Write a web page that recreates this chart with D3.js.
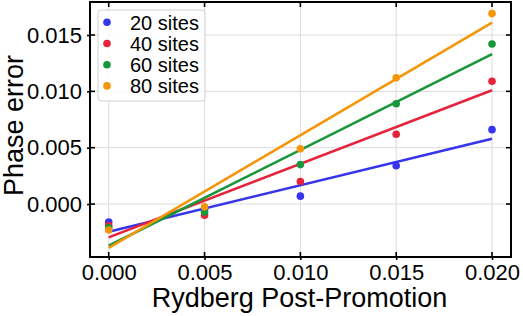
<!DOCTYPE html>
<html>
<head>
<meta charset="utf-8">
<script src="https://cdn.jsdelivr.net/npm/d3@7"></script>
<style>
  html, body { margin: 0; padding: 0; background: #fff; }
  svg { display: block; font-family: "Liberation Sans", Arial, Helvetica, sans-serif; }
</style>
</head>
<body>
<svg id="chart" width="523" height="316"></svg>
<script>
// ---- data ----
const xValues = [0, 0.005, 0.010, 0.015, 0.020];
const seriesNames = ["20 sites", "40 sites", "60 sites", "80 sites"];
const seriesColors = ["#3535ee", "#e5243b", "#17963a", "#f5960a"];
const sites20 = [-0.0016, -0.0005, 0.0007, 0.0034, 0.0066];
const sites40 = [-0.0019, -0.0010, 0.0020, 0.0062, 0.0109];
const sites60 = [-0.0021, -0.0007, 0.0035, 0.0089, 0.0142];
const sites80 = [-0.0023, -0.00025, 0.0049, 0.0112, 0.0169];
// linear fit lines, value at x = 0 and at x = 0.020
const fitX = [0, 0.020];
const fitStart = [-0.00246, -0.00296, -0.0037, -0.00388];
const fitEnd = [0.0058, 0.0101, 0.0133, 0.0161];
const xTicks = [0, 0.005, 0.010, 0.015, 0.020];
const yTicks = [0, 0.005, 0.010, 0.015];
const xLabel = "Rydberg Post-Promotion";
const yLabel = "Phase error";

const seriesValues = [sites20, sites40, sites60, sites80];

// ---- layout ----
const svg = d3.select("#chart");
const L = 90, R = 511, T = 2, B = 257;
const x = d3.scaleLinear().domain([-0.000976, 0.02099]).range([L, R]);
const y = d3.scaleLinear().domain([-0.0047, 0.01793]).range([B, T]);

// grid
const grid = svg.append("g");
grid.selectAll("line.gx").data(xTicks).join("line")
  .attr("x1", d => x(d)).attr("x2", d => x(d)).attr("y1", T).attr("y2", B)
  .attr("stroke", "#dcdcdc").attr("stroke-width", 1);
grid.selectAll("line.gy").data(yTicks).join("line")
  .attr("y1", d => y(d)).attr("y2", d => y(d)).attr("x1", L).attr("x2", R)
  .attr("stroke", "#dcdcdc").attr("stroke-width", 1);

// fit lines
const line = d3.line().x(d => x(d[0])).y(d => y(d[1]));
seriesNames.forEach((n, i) => {
  svg.append("path")
    .datum([[fitX[0], fitStart[i]], [fitX[1], fitEnd[i]]])
    .attr("d", line).attr("fill", "none")
    .attr("stroke", seriesColors[i]).attr("stroke-width", 2.6);
});

// points
seriesNames.forEach((n, i) => {
  svg.append("g").selectAll("circle").data(seriesValues[i]).join("circle")
    .attr("cx", (d, j) => x(xValues[j])).attr("cy", d => y(d))
    .attr("r", 3.8).attr("fill", seriesColors[i]);
});

// axes
const fmt = d3.format(".3f");
const tickIn = 5, tickOut = 3;
const axB = d3.axisBottom(x).tickValues(xTicks).tickFormat(fmt).tickSizeInner(tickOut).tickSizeOuter(0).tickPadding(4);
const axL = d3.axisLeft(y).tickValues(yTicks).tickFormat(fmt).tickSizeInner(tickOut).tickSizeOuter(0).tickPadding(5);
const gB = svg.append("g").attr("transform", `translate(0,${B})`).call(axB);
const gL = svg.append("g").attr("transform", `translate(${L},0)`).call(axL);
[gB, gL].forEach(g => {
  g.select(".domain").remove();
  g.selectAll("text").attr("font-size", 22).attr("fill", "#000")
    .attr("font-family", "Liberation Sans, Arial, sans-serif");
  g.selectAll(".tick line").attr("stroke", "#000").attr("stroke-width", 1.6);
});
gB.selectAll(".tick text").attr("dy", "0.71em");
// inward ticks on all sides
const ticksG = svg.append("g").attr("stroke", "#000").attr("stroke-width", 1.6);
xTicks.forEach(t => {
  ticksG.append("line").attr("x1", x(t)).attr("x2", x(t)).attr("y1", B).attr("y2", B - tickIn);
  ticksG.append("line").attr("x1", x(t)).attr("x2", x(t)).attr("y1", T).attr("y2", T + tickIn);
});
yTicks.forEach(t => {
  ticksG.append("line").attr("y1", y(t)).attr("y2", y(t)).attr("x1", L).attr("x2", L + tickIn);
  ticksG.append("line").attr("y1", y(t)).attr("y2", y(t)).attr("x1", R).attr("x2", R - tickIn);
});

// frame
svg.append("rect").attr("x", L).attr("y", T).attr("width", R - L).attr("height", B - T)
  .attr("fill", "none").attr("stroke", "#000").attr("stroke-width", 2);

// axis labels
svg.append("text").attr("x", (L + R) / 2 - 1).attr("y", 307).attr("text-anchor", "middle")
  .attr("font-size", 27).attr("fill", "#000").text(xLabel);
svg.append("text").attr("transform", `translate(23,${(T + B) / 2 - 4}) rotate(-90)`)
  .attr("text-anchor", "middle").attr("font-size", 27).attr("fill", "#000").text(yLabel);

// legend
const lg = svg.append("g");
lg.append("rect").attr("x", 98).attr("y", 10).attr("width", 107).attr("height", 91)
  .attr("rx", 3).attr("fill", "#fff").attr("fill-opacity", 0.85)
  .attr("stroke", "#d0d0d0").attr("stroke-width", 1);
seriesNames.forEach((n, i) => {
  const cy = 22.3 + i * 21.2;
  lg.append("circle").attr("cx", 107).attr("cy", cy).attr("r", 3.8).attr("fill", seriesColors[i]);
  lg.append("text").attr("x", 130).attr("y", cy + 7.2).attr("font-size", 20).attr("fill", "#000").text(n);
});
</script>
</body>
</html>
